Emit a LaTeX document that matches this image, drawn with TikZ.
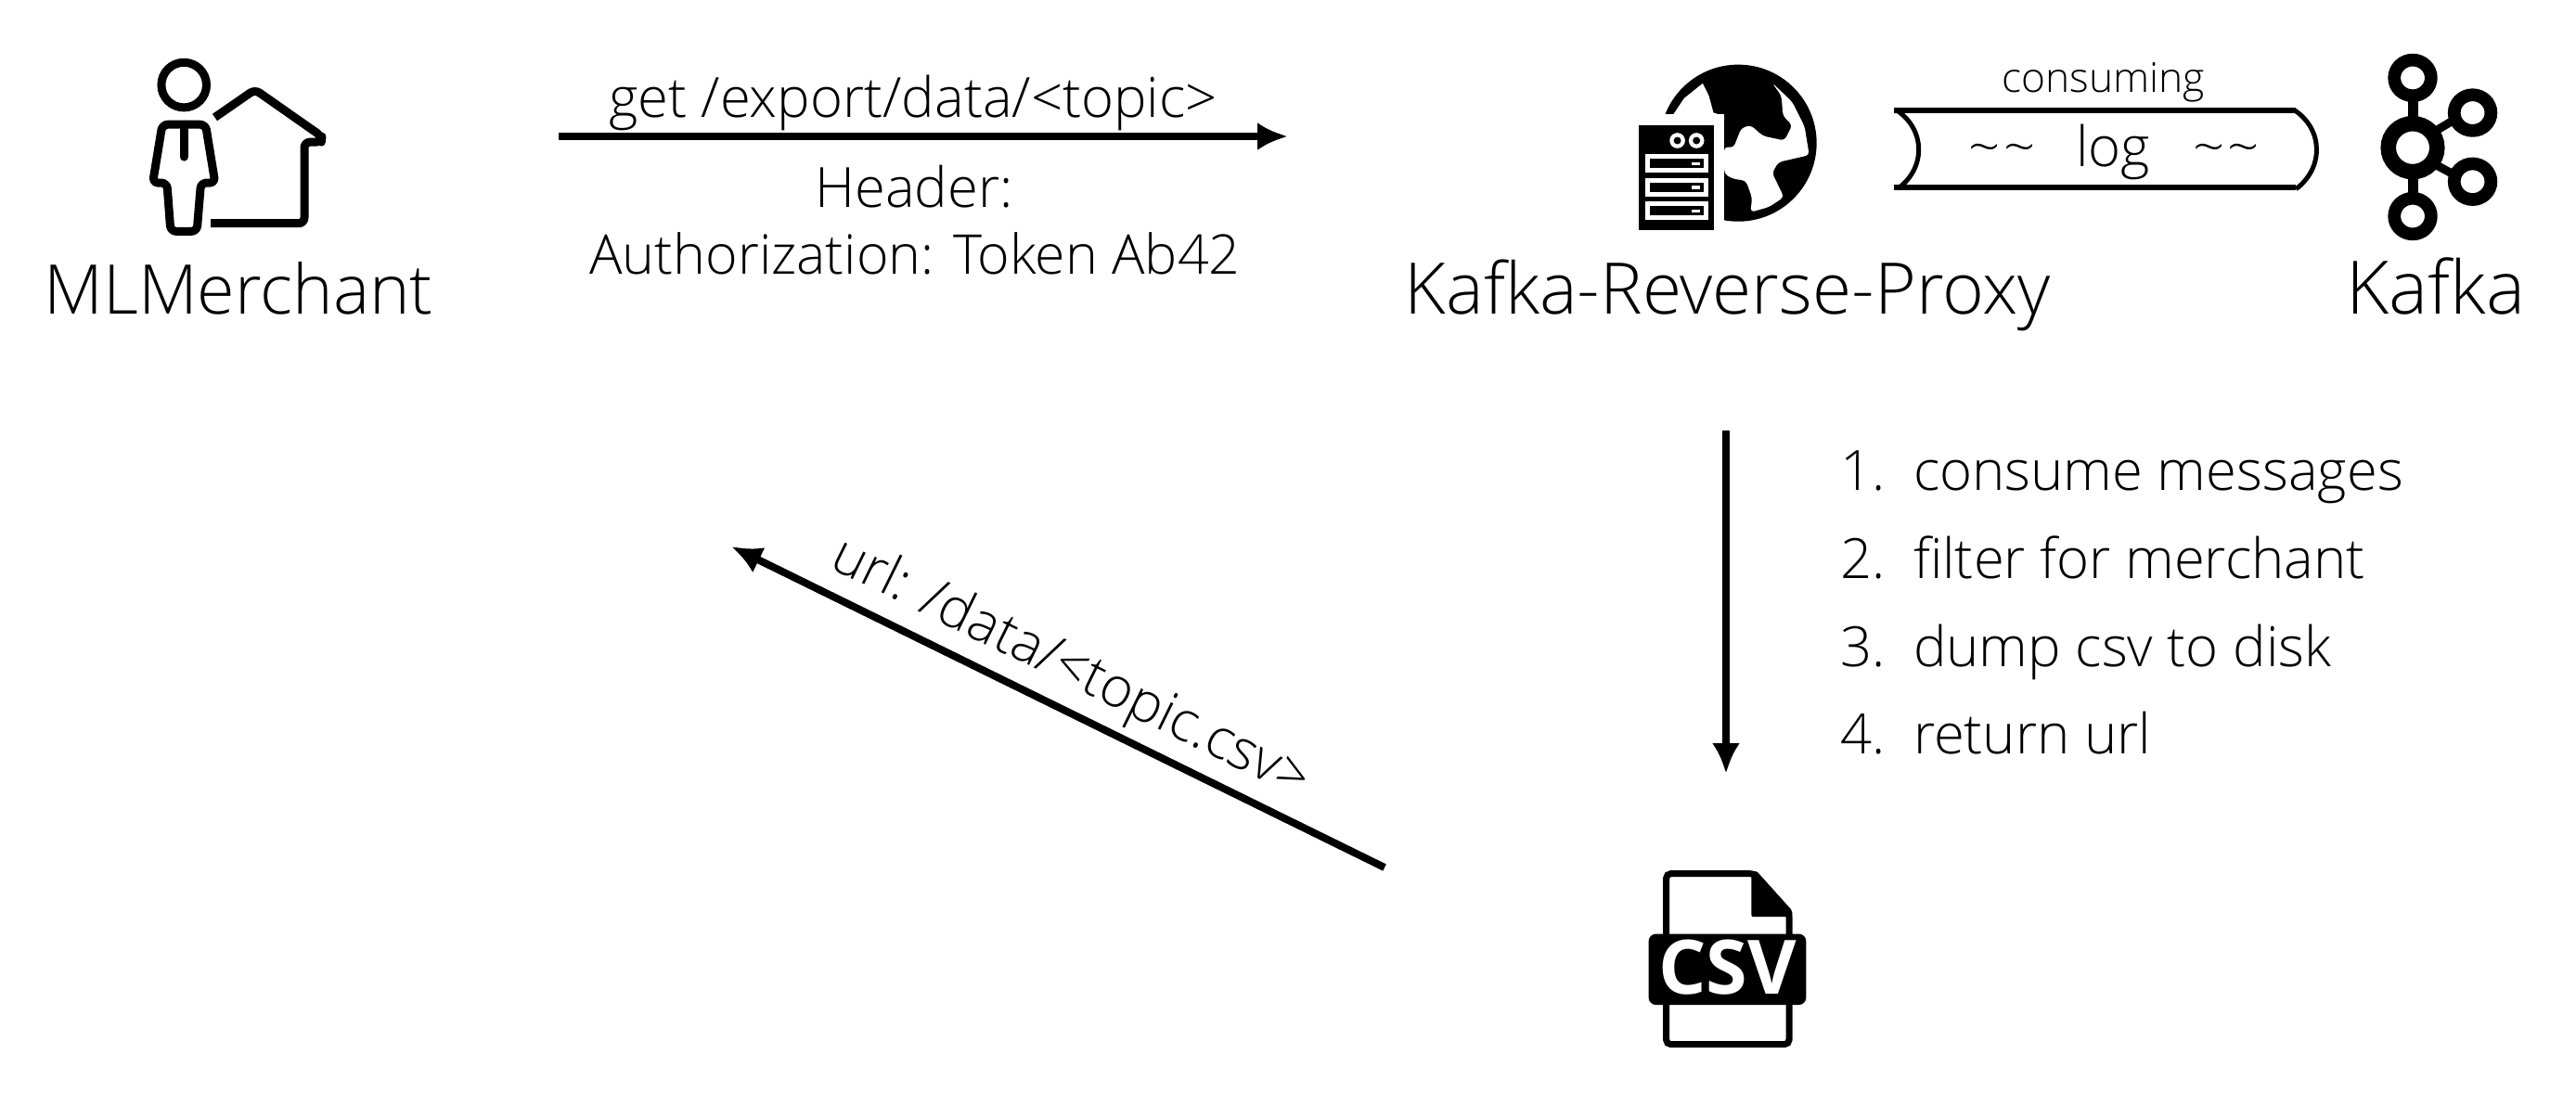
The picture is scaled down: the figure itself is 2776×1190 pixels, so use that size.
\documentclass[tikz,border=0pt]{standalone}
\usepackage{fontspec}
\setmainfont{Open Sans}[UprightFont={* Light}]
\newfontfamily\csvfont{Open Sans}[UprightFont={* Bold}]
\usetikzlibrary{arrows.meta}
\usetikzlibrary{positioning}
\begin{document}
\begin{tikzpicture}[
  x=0.01cm, y=-0.01cm,
  every node/.style={inner sep=0pt, outer sep=0pt, anchor=base},
  big/.style={font=\fontsize{21.8}{26}\selectfont},
  mid/.style={font=\fontsize{17}{20}\selectfont},
  sml/.style={font=\fontsize{12.6}{15}\selectfont},
  flow/.style={-{Latex[length=0.33cm,width=0.3cm]}, line width=0.08cm},
  icon/.style={line width=0.09cm, line join=round},
  zoomed/.style={x=0.003333cm, y=-0.003333cm},
  wide/.style={x=0.004615cm, y=-0.003333cm}
]
\useasboundingbox (0,0) rectangle (2776,1190);

% Titles
\node[big, font=\fontsize{21}{26}\selectfont] (merchant) at (257,338) {MLMerchant};
\node[big] (proxy) at (1862,338) {Kafka-Reverse-Proxy};
\node[big, font=\fontsize{22.6}{26}\selectfont] (kafka) at (2625,338) {Kafka};

% Request
\coordinate (reqa) at (602,147);
\coordinate (reqb) at (1388,147);
\draw[flow] (reqa) -- (reqb);
\node[mid] (get) at (984,126) {get /export/data/<topic>};
\node[mid] (hdr) at (985,223) {Header:};
\node[mid, font=\fontsize{16.8}{20}\selectfont] (auth) at (986,295) {Authorization: Token Ab42};

% Steps
\coordinate (stepa) at (1860,464);
\coordinate (stepb) at (1860,834);
\draw[flow] (stepa) -- (stepb);
\foreach \n/\y/\t in {1/528/consume messages, 2/623/filter for merchant, 3/718/dump csv to disk, 4/812/return url} {
  \node[mid, anchor=base west] (num\n) at (1983,\y) {\n.};
  \node[mid, anchor=base west] (txt\n) at (2062,\y) {\t};
}

% Answer
\coordinate (urla) at (1492,935);
\coordinate (urlb) at (788,589);
\draw[flow] (urla) -- (urlb);
\node[mid, anchor=center, rotate=-26.2] (url) at (1153,722) {url: /data/<topic.csv>};

% Merchant icon
\begin{scope}[shift={(120,40)}, zoomed]
  \draw[icon] (235,155) circle (73);
  \draw[icon, rounded corners=0.06cm] (165,283) -- (305,283) -- (336,472) -- (290,472) -- (277,629) -- (192,629) -- (180,472) -- (134,472) -- cycle;
  \draw[icon, line cap=round] (235,283) -- (235,388);
  \draw[icon, rounded corners=0.06cm] (335,260) -- (465,170) -- (682,322) -- (680,340) -- (625,340) -- (625,603) -- (322,603);
\end{scope}

% Proxy icon
\begin{scope}[shift={(1740,50)}, zoomed]
  \fill (400,313) circle (254);
  \fill[white] (60,220) rectangle (355,620);
  \fill[white] (190,220) -- (225,168) -- (285,120) -- (305,160) -- (320,215) -- (355,225) -- (355,235) -- (190,235) -- cycle;
  \fill[white, rounded corners=0.04cm] (510,118) -- (575,180) -- (615,260) -- (630,352) -- (530,375) -- (510,410) -- (548,488) -- (500,520) -- (440,537) -- (445,490) -- (425,435) -- (380,428) -- (355,412) -- (355,325) -- (385,328) -- (410,265) -- (440,255) -- (480,290) -- (550,305) -- (575,255) -- (545,225) -- (540,160) -- cycle;
  \fill (78,255) rectangle (320,595);
  \foreach \cx in {203,265} {
    \fill[white] (\cx,305) circle (25);
    \fill (\cx,305) circle (12);
  }
  \foreach \sy in {350,427,503} {
    \fill[white] (100,\sy) rectangle +(202,60);
    \fill (115,\sy+15) rectangle +(172,30);
    \fill[white] (250,\sy+25) rectangle +(25,10);
  }
\end{scope}

% Log
\begin{scope}[shift={(2020,40)}, wide]
  \draw[line width=0.06cm] (45,237) -- (985,237);
  \draw[line width=0.06cm] (45,488) -- (985,488);
  \draw[line width=0.05cm] (52,237) .. controls (120,300) and (120,425) .. (55,490);
  \draw[line width=0.05cm] (982,237) .. controls (1050,300) and (1050,425) .. (985,492);
  \node[sml] (cons) at (535,180) {consuming};
  \node[mid] (tl) at (298,420) {\textasciitilde\hspace{1pt}\textasciitilde};
  \node[mid] (log) at (558,420) {log};
  \node[mid] (tr) at (822,420) {\textasciitilde\hspace{1pt}\textasciitilde};
\end{scope}

% Kafka icon
\begin{scope}[shift={(2020,40)}, wide]
  \foreach \kx/\ky in {1258/132, 1398/245, 1398/468, 1258/580}
    \draw[line width=0.137cm] (\kx,\ky) ellipse (43 and 58);
  \draw[line width=0.165cm] (1258,358) ellipse (57 and 78);
  \draw[line width=0.11cm] (1258,205) -- (1258,265);
  \draw[line width=0.11cm] (1258,450) -- (1258,510);
  \draw[line width=0.09cm] (1310,305) -- (1350,272);
  \draw[line width=0.09cm] (1310,412) -- (1350,442);
\end{scope}

% Csv icon
\begin{scope}[shift={(1740,920)}, zoomed]
  \draw[line width=0.07cm, rounded corners=0.05cm] (167,65) -- (452,65) -- (565,192) -- (565,618) -- (167,618) -- cycle;
  \fill[rounded corners=0.02cm] (443,60) -- (458,55) -- (575,185) -- (575,205) -- (443,205) -- cycle;
  \fill[rounded corners=0.08cm] (110,260) rectangle (620,490);
  \node[white, anchor=center, font=\csvfont\fontsize{23}{26}\selectfont] (csv) at (365,368) {CSV};
\end{scope}
\end{tikzpicture}
\end{document}
